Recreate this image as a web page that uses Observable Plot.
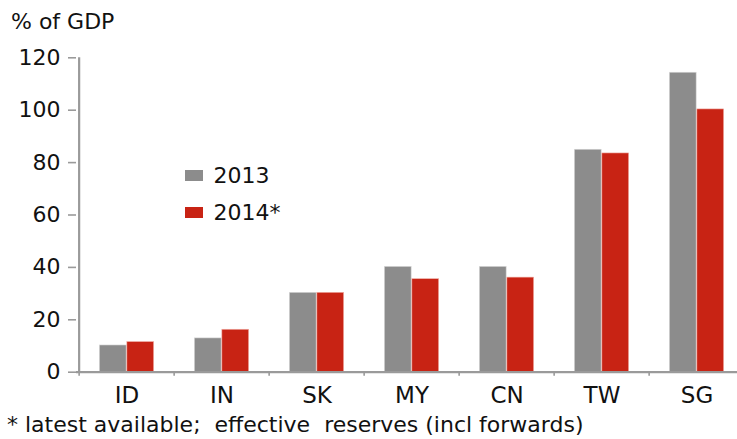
<!DOCTYPE html>
<html>
<head>
<meta charset="utf-8">
<script src="https://cdn.jsdelivr.net/npm/d3@7"></script>
<script src="https://cdn.jsdelivr.net/npm/@observablehq/plot@0.6"></script>
<style>
  html, body { margin: 0; padding: 0; background: #fff; overflow: hidden; }
  #wrap { position: relative; width: 737px; height: 439px; font-family: "DejaVu Sans", sans-serif; color: #111; }
  #title { height: 42px; font-size: 22px; line-height: 1; padding-left: 11px; box-sizing: border-box; padding-top: 10.5px; }
  #caption { position: absolute; left: 7px; top: 414px; font-size: 22px; line-height: 1; white-space: pre; }
  .leg { position: absolute; font-size: 22px; line-height: 1; display: flex; align-items: center; }
  .sw { width: 18px; height: 11px; margin-right: 10.5px; }
</style>
</head>
<body>
<div id="wrap">
  <div id="title">% of GDP</div>
  <div id="chart"></div>
  <div id="caption"></div>
  <div id="legend"></div>
</div>
<script>
const countries = ["ID", "IN", "SK", "MY", "CN", "TW", "SG"];
const values2013 = [10.2, 12.9, 30.3, 40.2, 40.2, 84.9, 114.3];
const values2014 = [11.5, 16.2, 30.3, 35.5, 36.1, 83.5, 100.3];
const seriesNames = ["2013", "2014*"];
const seriesColors = ["#8c8c8c", "#c82314"];
const yTicks = [0, 20, 40, 60, 80, 100, 120];
const footnote = "* latest available;  effective  reserves (incl forwards)";

const rows = [];
countries.forEach((c, i) => {
  rows.push({country: c, series: seriesNames[0], value: values2013[i]});
  rows.push({country: c, series: seriesNames[1], value: values2014[i]});
});

const W = 737, H = 397;
const xLeft = 76, xRight = 746;
const band = (xRight - xLeft) / countries.length;
const barW = 27.5;
const half = band / 2;

const axisGray = "#9a9a9a";

const chart = Plot.plot({
  width: W,
  height: H,
  marginTop: 15.3,
  marginBottom: 67.3,
  marginLeft: xLeft,
  marginRight: 0,
  style: {fontFamily: "DejaVu Sans, sans-serif", fontSize: "22px", color: "#111", background: "white", overflow: "visible"},
  x: {domain: countries, range: [xLeft, xRight], padding: 0, label: null},
  y: {domain: [0, 120], label: null},
  color: {domain: seriesNames, range: seriesColors},
  marks: [
    Plot.barY(rows.filter(d => d.series === seriesNames[0]), {
      x: "country", y: "value", fill: "series",
      insetLeft: half - barW, insetRight: half,
      stroke: "#d8d8d8", strokeWidth: 0.6
    }),
    Plot.barY(rows.filter(d => d.series === seriesNames[1]), {
      x: "country", y: "value", fill: "series",
      insetLeft: half, insetRight: half - barW,
      stroke: "#f0b0a8", strokeWidth: 0.6
    }),
    Plot.ruleY([0], {stroke: axisGray, strokeWidth: 2.2}),
    Plot.ruleX([0], {x: () => countries[0], dx: -half, y1: 0, y2: 120, stroke: axisGray, strokeWidth: 2.2}),
    Plot.axisY({ticks: yTicks, tickSize: 8, tickPadding: 8, stroke: axisGray, strokeWidth: 1.6, fill: "#111", fontSize: 22, tickFormat: d => String(d)}),
    Plot.axisX({tickSize: 4, dx: -half, text: null, stroke: axisGray, strokeWidth: 1.6}),
    Plot.axisX({tickSize: 0, tickPadding: 14, fill: "#111", fontSize: 23})
  ]
});
document.getElementById("chart").appendChild(chart);
document.getElementById("caption").textContent = footnote;

const legend = document.getElementById("legend");
seriesNames.forEach((name, i) => {
  const item = document.createElement("div");
  item.className = "leg";
  item.style.left = "185px";
  item.style.top = (164.5 + i * 37) + "px";
  const sw = document.createElement("div");
  sw.className = "sw";
  sw.style.background = seriesColors[i];
  const t = document.createElement("span");
  t.textContent = name;
  item.appendChild(sw);
  item.appendChild(t);
  legend.appendChild(item);
});
</script>
</body>
</html>
